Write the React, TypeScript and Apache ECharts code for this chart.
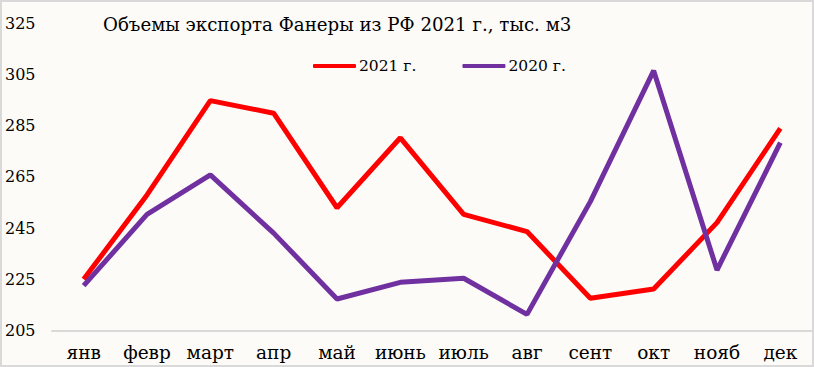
import React, { useEffect, useRef } from "react";
import * as echarts from "echarts";

const months = ["янв", "февр", "март", "апр", "май", "июнь", "июль", "авг", "сент", "окт", "нояб", "дек"];
const values2021 = [225, 257.9, 294.7, 289.8, 252.9, 280.2, 250.3, 243.6, 217.6, 221.2, 247.1, 283.9];
const values2020 = [222.5, 250.3, 265.7, 243, 217.3, 223.8, 225.4, 211.3, 255.3, 306.4, 228.6, 278.3];
const seriesNames = ["2021 г.", "2020 г."];
const titleText = "Объемы экспорта Фанеры из РФ 2021 г., тыс. м3";

const FONT = "DejaVu Serif";

export default function App() {
  const ref = useRef<HTMLDivElement>(null);
  useEffect(() => {
    if (!ref.current) return;
    const chart = echarts.init(ref.current, undefined, { renderer: "svg" });
    chart.setOption({
      animation: false,
      backgroundColor: "#FCFBF7",
      title: {
        text: titleText,
        left: 98,
        top: 10,
        textStyle: { fontFamily: FONT, fontSize: 18.2, fontWeight: "normal", color: "#000" },
      },
      legend: {
        left: 308,
        top: 53,
        itemWidth: 43,
        itemHeight: 4,
        itemGap: 46,
        icon: "roundRect",
        textStyle: { fontFamily: FONT, fontSize: 15.5, color: "#000", padding: [0, 0, 0, -2] },
        data: seriesNames,
      },
      grid: { left: 52, right: 2, top: 23, bottom: 36.5, containLabel: false },
      xAxis: {
        type: "category",
        data: months,
        boundaryGap: true,
        axisLine: { show: true, lineStyle: { color: "#D9D9D9", width: 2 } },
        axisTick: { show: false },
        axisLabel: { fontFamily: FONT, fontSize: 18.5, color: "#000", margin: 12, interval: 0 },
        splitLine: { show: false },
      },
      yAxis: {
        type: "value",
        min: 205,
        max: 325,
        interval: 5,
        axisLine: { show: false },
        axisTick: { show: false },
        splitLine: { show: false },
        axisLabel: {
          fontFamily: FONT,
          fontSize: 16,
          color: "#000",
          align: "left",
          margin: 47,
          formatter: (v: number) => ((v - 205) % 20 === 0 ? String(v) : ""),
        },
      },
      series: [
        {
          name: seriesNames[0],
          type: "line",
          data: values2021,
          symbol: "none",
          lineStyle: { color: "#FF0000", width: 5 },
          itemStyle: { color: "#FF0000" },
        },
        {
          name: seriesNames[1],
          type: "line",
          data: values2020,
          symbol: "none",
          lineStyle: { color: "#7030A0", width: 5 },
          itemStyle: { color: "#7030A0" },
        },
      ],
    });
    return () => chart.dispose();
  }, []);
  return (
    <div style={{ position: "absolute", left: 0, top: 0, width: 814, height: 367 }}>
      <div ref={ref} style={{ position: "absolute", left: 0, top: 0, width: 814, height: 367 }} />
      <div
        style={{
          position: "absolute",
          left: 0,
          top: 0,
          width: 814,
          height: 367,
          boxSizing: "border-box",
          border: "2px solid #D9D9D9",
          pointerEvents: "none",
        }}
      />
    </div>
  );
}
